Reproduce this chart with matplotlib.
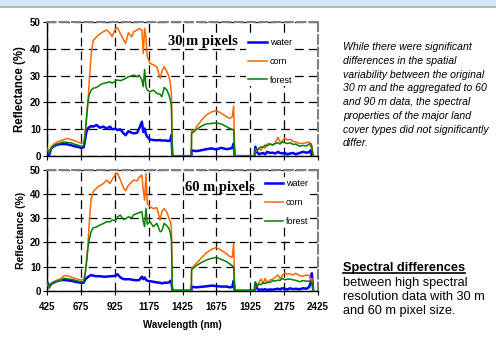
import numpy as np
import matplotlib
matplotlib.use('Agg')
import matplotlib.pyplot as plt
from matplotlib.patches import Rectangle
from matplotlib.lines import Line2D

plt.rcParams['font.family'] = ['Liberation Sans', 'DejaVu Sans']

# 波长网格 (nm)
wl = np.array([
    425, 440, 455, 475, 500, 525, 550, 575, 600, 625, 650, 675,
    695, 705, 715, 725, 735, 750, 765,
    790, 815, 840, 865, 890, 905, 930, 945, 965, 990,
    1005, 1025, 1050, 1065, 1090, 1105, 1125, 1135, 1145, 1155, 1165,
    1185, 1210, 1235, 1260, 1272, 1290, 1310, 1325, 1335, 1343, 1350,
    1490, 1492, 1505, 1530, 1565, 1600, 1640, 1675, 1710, 1750,
    1775, 1792, 1803, 1810,
    1958, 1962, 1975, 1990, 2005, 2020, 2035, 2050, 2070, 2090,
    2110, 2130, 2145, 2160, 2180, 2200, 2220, 2240, 2260, 2290,
    2315, 2340, 2360, 2372, 2380, 2390])

# 30 m
water30 = [2.2, 0.4, 2.9, 3.7, 4.3, 4.5, 4.5, 4.4, 4.1, 3.7, 3.5, 3.1,
           3.3, 6.0, 9.0, 10.3, 10.7, 11.2, 11.0,
           11.6, 10.6, 11.0, 10.3, 11.0, 10.0, 10.2, 9.7, 10.0, 8.5,
           7.8, 9.3, 8.7, 8.5, 8.7, 10.3, 12.8, 9.0, 10.3, 8.2, 7.2,
           6.2, 6.0, 5.9, 6.0, 5.8, 5.9, 5.7, 5.7, 6.0, 7.8, 0,
           0, 2.2, 2.0, 1.9, 2.2, 2.6, 2.9, 2.5, 3.1, 2.6,
           2.8, 3.1, 4.7, 0,
           0, 3.5, 1.6, 0.7, 1.0, 1.2, 0.7, 1.6, 1.2, 1.3,
           1.0, 1.6, 1.2, 1.0, 1.2, 0.7, 1.0, 1.2, 0.7, 1.2,
           1.6, 1.3, 1.5, 2.2, 0, 0]
corn30 = [2.9, 1.2, 3.5, 4.5, 5.3, 5.8, 6.2, 6.6, 6.2, 5.8, 5.3, 4.8,
          5.0, 8.5, 14, 19, 27, 38, 43,
          44.5, 45.5, 46.4, 47, 45.8, 44.5, 47.6, 47.8, 45.8, 43.3,
          42, 46, 44.5, 46.4, 47, 47.6, 47, 38.3, 47.6, 44.5, 37,
          34.6, 34, 33.3, 29, 31.5, 33.3, 31.5, 29.6, 27, 23.4, 0,
          0, 9.7, 9.0, 11, 13.4, 15.3, 16.5, 17, 16, 14.7,
          14, 14.7, 18.7, 0,
          0, 1.6, 2.0, 3.0, 2.2, 3.5, 3.0, 4.5, 4.7, 4.0,
          5.0, 7.0, 5.3, 5.5, 6.8, 6.0, 6.3, 5.5, 5.3, 4.7,
          4.8, 5.0, 5.3, 3.5, 4.0, 0]
forest30 = [2.5, 1.0, 2.9, 3.9, 4.5, 5.0, 5.3, 5.1, 5.0, 4.5, 4.1, 3.7,
            3.9, 7.2, 13.4, 19.7, 22.8, 24.6, 25.3,
            25.6, 26.5, 27.1, 27.4, 27.7, 27.2, 28, 28.4, 28.1, 28.6,
            29, 29.6, 29.9, 30.2, 29.6, 30.2, 28.4, 25.9, 32.3, 25.9, 24.6,
            24.0, 24.6, 23.4, 23.0, 22.1, 25.6, 24.6, 22.8, 20.9, 18.4, 0,
            0, 8.5, 9.0, 10, 11.2, 12, 12.2, 12.4, 12, 11,
            10.3, 10, 9.7, 0,
            0, 2.9, 2.2, 2.9, 3.5, 3.3, 4.1, 3.8, 4.5, 4.2,
            4.7, 5.0, 4.5, 5.3, 5.0, 4.7, 5.0, 4.4, 4.5, 3.7,
            4.0, 3.8, 4.5, 4.7, 3.0, 0]

# 60 m
water60 = [3.7, 1.7, 2.8, 3.4, 4.0, 4.4, 4.4, 4.3, 4.1, 3.8, 3.5, 3.3,
           3.3, 4.5, 5.1, 5.6, 6.0, 6.5, 6.2,
           6.0, 6.0, 5.8, 5.8, 6.0, 6.0, 6.2, 6.8, 5.5, 4.8,
           4.7, 4.8, 4.6, 4.4, 4.3, 4.4, 5.8, 4.8, 5.5, 4.6, 4.1,
           3.9, 3.7, 3.4, 3.3, 3.0, 3.3, 3.3, 3.4, 4.1, 3.6, 0,
           0, 1.7, 1.5, 1.4, 1.6, 1.8, 2.1, 1.9, 1.7, 1.7,
           1.4, 1.5, 4.1, 0,
           0, 3.0, 1.0, 0.3, 0.5, 0.4, 0.6, 0.3, 0.5, 0.4,
           0.6, 0.8, 0.5, 1.0, 0.8, 0.5, 1.0, 0.6, 0.8, 0.6,
           1.0, 0.8, 1.5, 3.5, 7.2, 0]
corn60 = [2.8, 1.2, 3.0, 3.7, 4.4, 4.9, 6.2, 6.2, 5.7, 5.2, 4.8, 4.4,
          4.7, 6.8, 12, 18, 27, 38, 41,
          42.5, 43.5, 44.4, 45.8, 44.4, 46, 48.2, 48.6, 46, 42.5,
          41.4, 43.7, 45, 45.8, 45.5, 47, 47.9, 41.7, 37.5, 48.6, 36,
          34.8, 34, 34.4, 29.3, 32.7, 34, 32.5, 30, 28.6, 26, 0,
          0, 9.2, 10, 11.5, 13.6, 15.6, 17.2, 17.9, 16.8, 15.3,
          14.1, 13.8, 19.6, 0,
          0, 2.3, 2.0, 3.5, 4.8, 3.0, 5.1, 3.2, 4.4, 4.7,
          5.5, 6.5, 5.0, 6.0, 7.5, 6.8, 7.0, 6.5, 7.2, 6.2,
          6.0, 6.5, 6.2, 4.5, 5.0, 0]
forest60 = [3.3, 1.0, 2.8, 3.5, 4.0, 4.3, 5.1, 4.9, 4.7, 4.4, 4.0, 3.7,
            3.8, 6.5, 11, 16.8, 21, 24.5, 26,
            26.4, 27.2, 27.8, 28.6, 28.5, 29.3, 29.0, 30.6, 31.3, 29.5,
            29.8, 30.6, 30.2, 31.5, 32.0, 32.3, 32.7, 28.6, 26.5, 34.1, 27.5,
            28.6, 26.5, 27.9, 24.4, 24.8, 27.9, 26.8, 25.8, 24, 21, 0,
            0, 8.6, 9.3, 10.5, 11.7, 12.7, 13.4, 13.8, 13.0, 12.0,
            11.0, 10.3, 9.9, 0,
            0, 3.7, 1.7, 2.8, 2.5, 3.3, 3.0, 3.5, 3.4, 4.1,
            4.0, 4.4, 4.2, 5.1, 4.5, 4.8, 4.8, 4.5, 4.3, 3.7,
            4.2, 3.9, 4.0, 3.5, 3.7, 0]

xticks = np.arange(425, 2426, 250)
yticks = np.arange(0, 51, 10)

fig = plt.figure(figsize=(4.96, 3.38), dpi=100)

# 顶部浅蓝色条
fig.patches.append(Rectangle((0, 1 - 6/338), 1, 6/338, transform=fig.transFigure,
                             facecolor='#d6e6fb', edgecolor='none'))
fig.lines.append(Line2D([0, 1], [1 - 6.5/338, 1 - 6.5/338], transform=fig.transFigure,
                        color='#a8a8a8', lw=1.2))

ax1 = fig.add_axes([0.095, 0.538, 0.546, 0.397])
ax2 = fig.add_axes([0.095, 0.140, 0.546, 0.357])

panels = [(ax1, water30, corn30, forest30, '30 m pixels', (0.576, 0.858), (0.735, 0.893), 2.1, 8.3),
          (ax2, water60, corn60, forest60, '60 m pixels', (0.638, 0.851), (0.797, 0.939), 2.0, 7.5)]

for ax, w, c, f, title, tpos, lpos, hl, ylfs in panels:
    ax.plot(wl, w, color='#0000ff', lw=1.8, label='water', zorder=3)
    ax.plot(wl, c, color='#ff6600', lw=1.1, label='corn', zorder=3)
    ax.plot(wl, f, color='#008000', lw=1.1, label='forest', zorder=3)
    ax.set_xlim(425, 2425); ax.set_ylim(0, 50)
    ax.set_xticks(xticks); ax.set_yticks(yticks)
    ax.grid(True, color='black', ls=(0, (7, 4)), lw=0.9)
    ax.set_axisbelow(True)
    for s in ['top', 'right']:
        ax.spines[s].set_color('#808080')
        ax.spines[s].set_linestyle((0, (4, 2)))
        ax.spines[s].set_linewidth(1.5)
    for s in ['left', 'bottom']:
        ax.spines[s].set_linewidth(1.0)
    ax.tick_params(labelsize=7, length=3, width=0.8, pad=1.5)
    ax.tick_params(axis='x', pad=5)
    for lab in ax.get_yticklabels() + ax.get_xticklabels():
        lab.set_fontweight('bold')
    ax.set_ylabel('Reflectance (%)', fontsize=ylfs, fontweight='bold', labelpad=3)
    ax.text(tpos[0], tpos[1], title, transform=ax.transAxes, ha='center', va='center',
            fontsize=10.5, fontweight='bold', family='Liberation Serif', zorder=4)
    leg = ax.legend(loc='upper left', bbox_to_anchor=lpos, frameon=True, fontsize=6.5,
                    handlelength=hl, handletextpad=0.33, labelspacing=1.08,
                    borderpad=0.2, borderaxespad=0, fancybox=False)
    leg.get_frame().set_edgecolor('none')
    leg.get_frame().set_facecolor('white')
    leg.get_frame().set_alpha(1)

ax1.tick_params(labelbottom=False)
ax2.set_xlabel('Wavelength (nm)', fontsize=7, fontweight='bold', labelpad=6)

desc = ('While there were significant\ndifferences in the spatial\n'
        'variability between the original\n30 m and the aggregated to 60\n'
        'and 90 m data, the spectral\nproperties of the major land\n'
        'cover types did not significantly\ndiffer.')
fig.text(343/496, 1 - 42/338, desc, ha='left', va='top', fontsize=7.6,
         style='italic', linespacing=1.47)

head = fig.text(343/496, 1 - 268/338, 'Spectral differences', ha='left', va='center',
                fontsize=9.2, fontweight='bold')
fig.text(343/496, 1 - 277/338, 'between high spectral\nresolution data with 30 m\n'
         'and 60 m pixel size.', ha='left', va='top', fontsize=9.2, linespacing=1.2)

fig.canvas.draw()
bb = head.get_window_extent().transformed(fig.transFigure.inverted())
uy = bb.y0 + 1.2/338
fig.lines.append(Line2D([bb.x0, bb.x1], [uy, uy],
                        transform=fig.transFigure, color='black', lw=1.2))

fig.savefig('out.png', dpi=100)
